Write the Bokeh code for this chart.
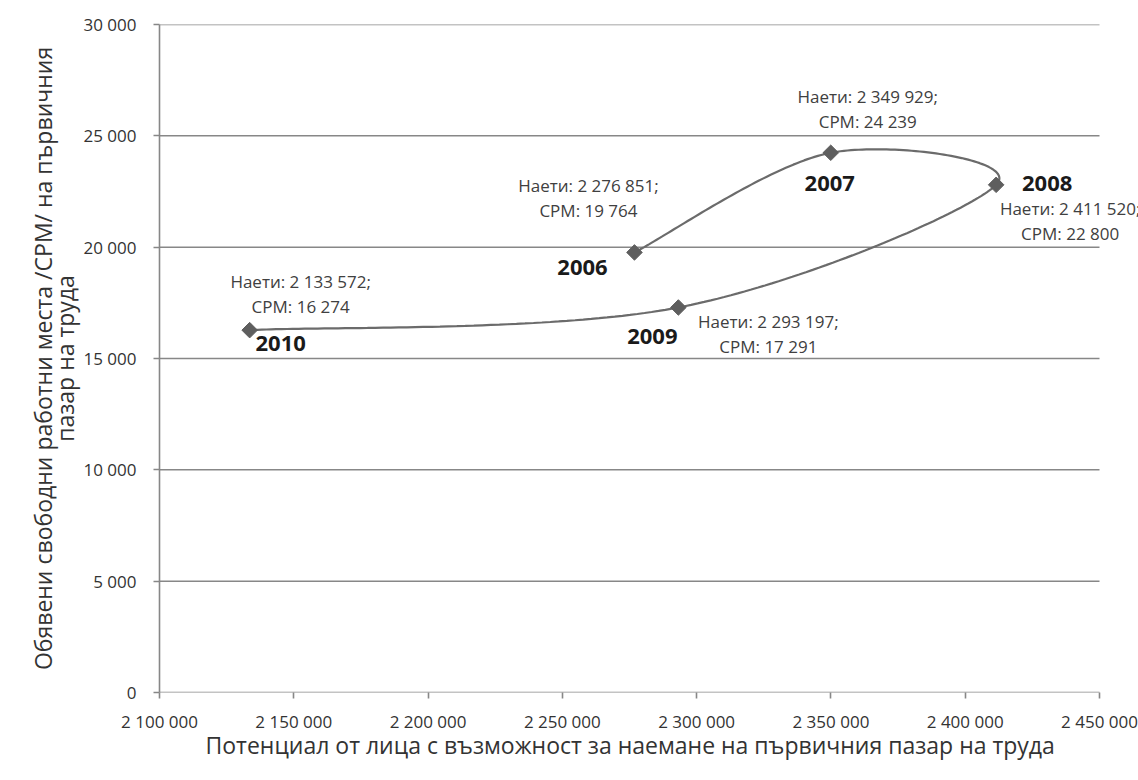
import numpy as np
from bokeh.plotting import figure
from bokeh.models import ColumnDataSource, LabelSet, CustomJSTickFormatter, FixedTicker, Range1d, Title
from bokeh.core.properties import value
from bokeh.embed import file_html
from bokeh.resources import INLINE

# ---- data ----
years = ["2006", "2007", "2008", "2009", "2010"]
employed = [2276851, 2349929, 2411520, 2293197, 2133572]
vacancies = [19764, 24239, 22800, 17291, 16274]
x_ticks = [2100000, 2150000, 2200000, 2250000, 2300000, 2350000, 2400000, 2450000]
y_ticks = [0, 5000, 10000, 15000, 20000, 25000, 30000]
x_title = "Потенциал от лица с възможност за наемане на първичния пазар на труда"
y_title_1 = "Обявени свободни работни места /СРМ/ на първичния"
y_title_2 = "пазар на труда"

# ---- label placement (screen px; positive dy = up) ----
data_dx = [-46, 37, 74, 90, 51]
data_dy = [54, 44, -36, -27, 36]
year_dx = [-52, -1, 51, -26, 31]
year_dy = [-15, -31, 1, -29, -13]
half_gap = 12.5


def sp(n):
    return f"{n:,}".replace(",", " ")


# smooth curve (Excel-like cubic Bezier through the points)
P = np.column_stack([employed, vacancies]).astype(float)
n = len(P)
t = np.linspace(0, 1, 60)[:, None]
segs = []
for i in range(n - 1):
    p0 = P[max(i - 1, 0)]
    p1 = P[i]
    p2 = P[i + 1]
    p3 = P[min(i + 2, n - 1)]
    c1 = p1 + (p2 - p0) / 6.0
    c2 = p2 - (p3 - p1) / 6.0
    seg = (1 - t) ** 3 * p1 + 3 * (1 - t) ** 2 * t * c1 + 3 * (1 - t) * t ** 2 * c2 + t ** 3 * p2
    segs.append(seg if i == 0 else seg[1:])
curve = np.vstack(segs)

src = ColumnDataSource(dict(
    x=employed, y=vacancies, year=years,
    line1=[f"Наети: {sp(e)};" for e in employed],
    line2=[f"СРМ: {sp(v)}" for v in vacancies],
    ddx=data_dx,
    d1y=[d + half_gap for d in data_dy],
    d2y=[d - half_gap for d in data_dy],
    ydx=year_dx, ydy=year_dy,
))

grid_col = "#878787"
font = "Open Sans"

# plot area: 940 px for the axis span, plus room on the right so the 2008 label can run to the edge
axis_px = 940
extra_px = 39
x0, x1 = x_ticks[0], x_ticks[-1]
x_end = x1 + (x1 - x0) * extra_px / axis_px

p = figure(width=1138, height=780, frame_width=axis_px + extra_px, frame_height=668,
           x_range=Range1d(x0, x_end), y_range=Range1d(y_ticks[0], y_ticks[-1]),
           min_border_left=159, min_border_right=0, min_border_top=24, min_border_bottom=88,
           output_backend="svg", toolbar_location=None)
p.outline_line_color = None
p.background_fill_color = "white"
p.border_fill_color = "white"
p.xgrid.visible = False
p.ygrid.visible = False

# horizontal gridlines (and the bottom axis line) spanning the axis range only
p.segment(x0=[x0] * len(y_ticks), x1=[x1] * len(y_ticks), y0=y_ticks, y1=y_ticks,
          line_color=grid_col, line_width=1.5)

fmt = CustomJSTickFormatter(code=r"return tick.toFixed(0).replace(/\B(?=(\d{3})+(?!\d))/g, ' ');")
for ax, ticks in ((p.xaxis[0], x_ticks), (p.yaxis[0], y_ticks)):
    ax.ticker = FixedTicker(ticks=ticks)
    ax.formatter = fmt
    ax.axis_line_color = grid_col
    ax.axis_line_width = 1.6
    ax.major_tick_line_color = grid_col
    ax.major_tick_line_width = 1.6
    ax.major_tick_in = 0
    ax.major_tick_out = 6
    ax.minor_tick_line_color = None
    ax.major_label_text_font = font
    ax.major_label_text_font_size = "17px"
    ax.major_label_text_color = "#333333"
    ax.axis_label_text_font = font
    ax.axis_label_text_font_style = "normal"
    ax.axis_label_text_font_size = "23px"
    ax.axis_label_text_color = "#333333"

p.xaxis.axis_line_color = None
p.xaxis.major_label_standoff = 11
p.yaxis.major_label_standoff = 17
p.yaxis.axis_label = y_title_2
p.yaxis.axis_label_standoff = -1

p.add_layout(Title(text=y_title_1, align="center", standoff=-24, text_font=font,
                   text_font_size="23px", text_font_style="normal", text_color="#333333"),
             "left")
p.add_layout(Title(text=x_title, align="left", offset=46, standoff=-18, text_font=font,
                   text_font_size="23px", text_font_style="normal", text_color="#333333"),
             "below")

p.line(curve[:, 0], curve[:, 1], line_color="#6b6b6b", line_width=2.2)
p.scatter("x", "y", source=src, marker="square", angle=np.pi / 4, size=11,
          fill_color="#5e5e5e", line_color="#5e5e5e")

for txt, dy in (("line1", "d1y"), ("line2", "d2y")):
    p.add_layout(LabelSet(x="x", y="y", text=txt, source=src, x_offset="ddx", y_offset=dy,
                          text_align="center", text_baseline="middle", text_font=value(font),
                          text_font_size="17px", text_color="#404040"))
p.add_layout(LabelSet(x="x", y="y", text="year", source=src, x_offset="ydx", y_offset="ydy",
                      text_align="center", text_baseline="middle", text_font=value(font),
                      text_font_style="bold", text_font_size="22px", text_color="#1a1a1a"))

open("out.html", "w").write(file_html(p, INLINE))
